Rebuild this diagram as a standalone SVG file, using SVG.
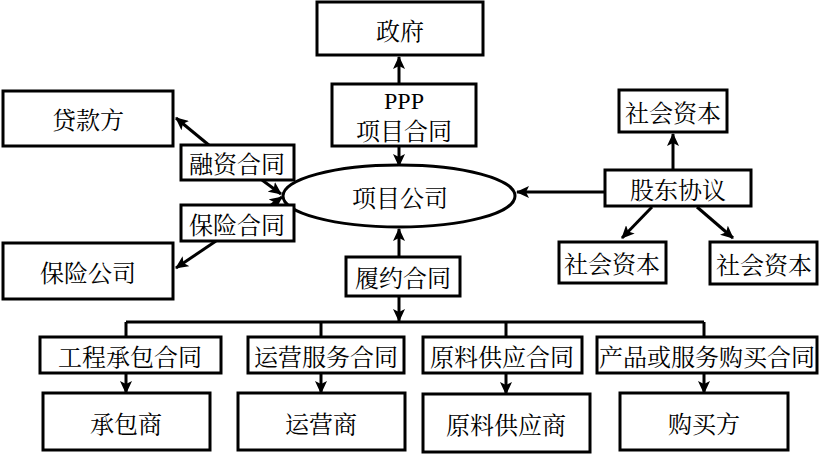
<svg xmlns="http://www.w3.org/2000/svg" width="820" height="455" viewBox="0 0 820 455">
<style>
.b{fill:#fff;stroke:#000;stroke-width:3}
.t{font-family:"Noto Serif CJK SC","Noto Sans CJK SC",serif;font-size:24px;fill:#000;text-anchor:middle;dominant-baseline:central}
.p{font-family:"Liberation Serif",serif;font-size:24px;fill:#000;text-anchor:middle;dominant-baseline:central}
.c line,.c polyline{stroke:#000;stroke-width:3;fill:none}
.a{marker-end:url(#ah)}
</style>
<defs>
<marker id="ah" markerUnits="userSpaceOnUse" markerWidth="14" markerHeight="12" refX="12" refY="6" orient="auto">
<path d="M0,0 L13,6 L0,12 L3,6 Z" fill="#000"/>
</marker>
</defs>
<rect width="820" height="455" fill="#fff"/>
<g class="c">
<line class="a" x1="399" y1="84" x2="399" y2="57"/>
<line class="a" x1="399" y1="146" x2="399" y2="166"/>
<line class="a" x1="210" y1="146" x2="176" y2="118"/>
<line class="a" x1="262" y1="180" x2="281" y2="194"/>
<line class="a" x1="270" y1="206" x2="282" y2="197"/>
<line class="a" x1="216" y1="241" x2="176" y2="268"/>
<line class="a" x1="605" y1="192" x2="517" y2="192"/>
<line class="a" x1="673" y1="170" x2="673" y2="134"/>
<line class="a" x1="652" y1="207" x2="622" y2="238"/>
<line class="a" x1="697" y1="207" x2="733" y2="238"/>
<line class="a" x1="399" y1="257" x2="399" y2="229"/>
<line class="a" x1="399" y1="296" x2="399" y2="321"/>
<line x1="126" y1="322" x2="704" y2="322"/>
<line x1="126" y1="322" x2="126" y2="337"/>
<line x1="321" y1="322" x2="321" y2="337"/>
<line x1="506" y1="322" x2="506" y2="337"/>
<line x1="704" y1="322" x2="704" y2="337"/>
<line class="a" x1="126" y1="373" x2="126" y2="393"/>
<line class="a" x1="321" y1="373" x2="321" y2="393"/>
<line class="a" x1="506" y1="373" x2="506" y2="394"/>
<line class="a" x1="704" y1="373" x2="704" y2="393"/>
</g>
<g id="zhengfu"><rect class="b" x="317" y="2" width="166" height="53"/><text class="t" x="400" y="29">政府</text></g>
<g id="ppp"><rect class="b" x="332" y="84" width="144" height="62"/><text class="p" x="404" y="101">PPP</text><text class="t" x="404" y="129">项目合同</text></g>
<g id="xmgs"><ellipse class="b" cx="399" cy="196" rx="116" ry="31"/><text class="t" x="400" y="196">项目公司</text></g>
<g id="dkf"><rect class="b" x="3" y="91" width="170" height="55"/><text class="t" x="88" y="118">贷款方</text></g>
<g id="rzht"><rect class="b" x="181" y="145" width="113" height="35"/><text class="t" x="237" y="162">融资合同</text></g>
<g id="bxht"><rect class="b" x="181" y="205" width="113" height="36"/><text class="t" x="237" y="223">保险合同</text></g>
<g id="bxgs"><rect class="b" x="3" y="243" width="170" height="56"/><text class="t" x="88" y="271">保险公司</text></g>
<g id="gdxy"><rect class="b" x="605" y="170" width="146" height="36"/><text class="t" x="678" y="188">股东协议</text></g>
<g id="shzb1"><rect class="b" x="619" y="90" width="108" height="42"/><text class="t" x="673" y="111">社会资本</text></g>
<g id="shzb2"><rect class="b" x="559" y="242" width="107" height="41"/><text class="t" x="612" y="262">社会资本</text></g>
<g id="shzb3"><rect class="b" x="710" y="242" width="107" height="42"/><text class="t" x="764" y="263">社会资本</text></g>
<g id="lyht"><rect class="b" x="346" y="257" width="114" height="39"/><text class="t" x="403" y="276">履约合同</text></g>
<g id="gccb"><rect class="b" x="40" y="337" width="181" height="36"/><text class="t" x="130" y="355">工程承包合同</text></g>
<g id="yyfw"><rect class="b" x="248" y="337" width="156" height="36"/><text class="t" x="326" y="355">运营服务合同</text></g>
<g id="ylgy"><rect class="b" x="423" y="337" width="159" height="36"/><text class="t" x="502" y="355">原料供应合同</text></g>
<g id="cpgm"><rect class="b" x="597" y="337" width="220" height="36"/><text class="t" x="707" y="355">产品或服务购买合同</text></g>
<g id="cbs"><rect class="b" x="43" y="393" width="167" height="57"/><text class="t" x="126" y="422">承包商</text></g>
<g id="yys"><rect class="b" x="238" y="393" width="167" height="57"/><text class="t" x="321" y="422">运营商</text></g>
<g id="ylgys"><rect class="b" x="423" y="394" width="167" height="58"/><text class="t" x="506" y="423">原料供应商</text></g>
<g id="gmf"><rect class="b" x="620" y="393" width="168" height="57"/><text class="t" x="704" y="422">购买方</text></g>
</svg>
